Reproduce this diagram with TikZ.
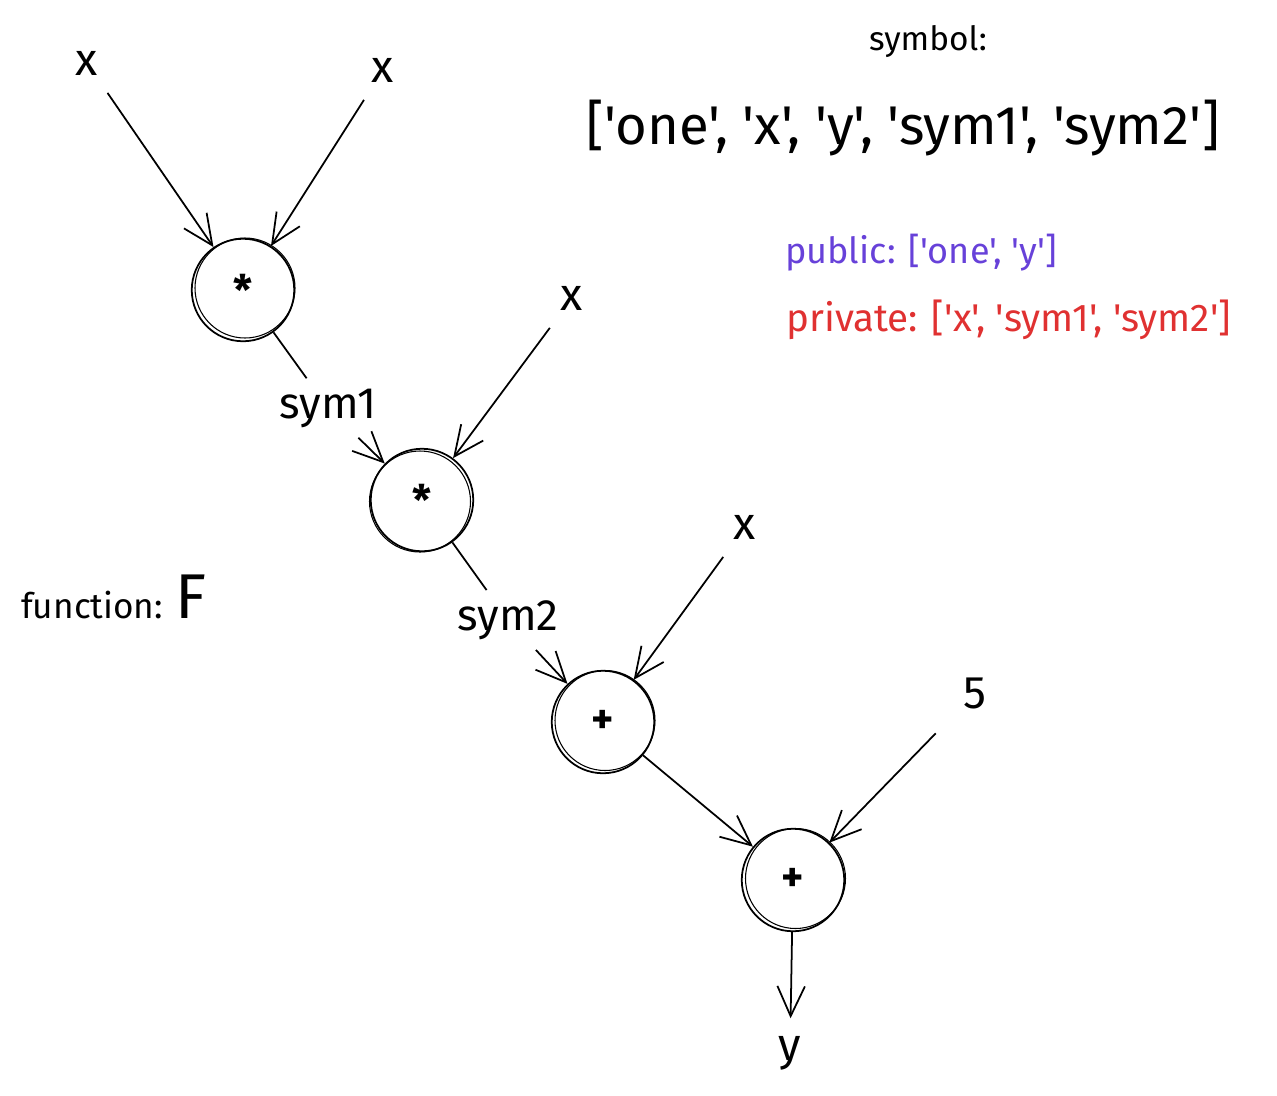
\documentclass[tikz,border=0pt]{standalone}
\usepackage{fontspec}
\setmainfont{Fira Sans}[Ligatures=TeXOff]
\usetikzlibrary{arrows.meta}

\definecolor{pubviolet}{HTML}{6741D9}
\definecolor{privred}{HTML}{E03131}

\tikzset{
    opnode/.style={draw, circle, line width=1pt, minimum size=2.05cm, font=\fontsize{24}{26}\selectfont\bfseries},
    inlabel/.style={inner sep=0.35cm, font=\fontsize{26}{28}\selectfont},
    symlabel/.style={inner sep=0.2cm, font=\fontsize{25}{28}\selectfont},
    sketchy/.style={line width=1pt, -{Straight Barb[length=6mm, width=5.5mm]}},
    textnote/.style={font=\fontsize{19}{22}\selectfont}
}

\begin{document}
\begin{tikzpicture}
    \useasboundingbox (0,0) rectangle (25.54,-21.9);

    % operation nodes
    \node[opnode] (mul1) at (4.86,-5.80) {*};
    \node[opnode] (mul2) at (8.44,-10.00) {*};
    \node[opnode] (add1) at (12.06,-14.44) {+};
    \node[opnode] (add2) at (15.86,-17.60) {+};

    % second stroke, hand drawn look
    \draw[semithick] (4.90,-5.76) circle (1.00);
    \draw[semithick] (8.40,-10.03) circle (1.01);
    \draw[semithick] (12.10,-14.41) circle (1.00);
    \draw[semithick] (15.91,-17.57) circle (1.00);

    % inputs
    \node[inlabel] (x1) at (1.74,-1.26) {x};
    \node[inlabel] (x2) at (7.66,-1.40) {x};
    \node[inlabel] (x3) at (11.44,-5.96) {x};
    \node[inlabel] (x4) at (14.90,-10.54) {x};
    \node[inlabel, inner sep=0.55cm] (five) at (19.50,-13.86) {5};
    \node[inlabel] (yout) at (15.80,-21.06) {y};

    % intermediate symbols
    \node[symlabel] (sym1) at (6.56,-8.16) {sym1};
    \node[symlabel] (sym2) at (10.16,-12.40) {sym2};

    % edges
    \draw[sketchy] (x1) -- (mul1);
    \draw[sketchy] (x2) -- (mul1);
    \draw[line width=1pt] (mul1) -- (sym1);
    \draw[sketchy] (sym1) -- (mul2);
    \draw[sketchy] (x3) -- (mul2);
    \draw[line width=1pt] (mul2) -- (sym2);
    \draw[sketchy] (sym2) -- (add1);
    \draw[sketchy] (x4) -- (add1);
    \draw[sketchy] (add1) -- (add2);
    \draw[sketchy] (five) -- (add2);
    \draw[sketchy] (add2) -- (yout);

    % notes
    \node[textnote, anchor=west, font=\fontsize{20}{22}\selectfont] (fname) at (0.30,-11.94) {function: {\fontsize{36}{38}\selectfont F}};
    \node[textnote] (symtitle) at (18.56,-0.84) {symbol:};
    \node[font=\fontsize{31}{34}\selectfont] (symlist) at (18.06,-2.56) {['one', 'x', 'y', 'sym1', 'sym2']};
    \node[textnote, anchor=west, text=pubviolet, font=\fontsize{20.5}{23}\selectfont] (publist) at (15.58,-5.06) {public: ['one', 'y']};
    \node[textnote, anchor=west, text=privred, font=\fontsize{22}{24}\selectfont] (privlist) at (15.60,-6.40) {private: ['x', 'sym1', 'sym2']};

\end{tikzpicture}
\end{document}
